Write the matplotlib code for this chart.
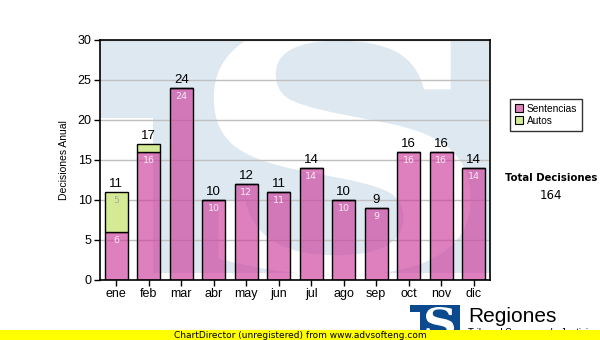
import matplotlib
matplotlib.use("Agg")
import matplotlib.pyplot as plt
import numpy as np
from matplotlib.patches import PathPatch, Rectangle, Polygon
from matplotlib.textpath import TextPath
from matplotlib.font_manager import FontProperties
from matplotlib.transforms import Affine2D

# Datos
meses = ['ene', 'feb', 'mar', 'abr', 'may', 'jun', 'jul', 'ago', 'sep', 'oct', 'nov', 'dic']
sentencias = [6, 16, 24, 10, 12, 11, 14, 10, 9, 16, 16, 14]
autos = [5, 1, 0, 0, 0, 0, 0, 0, 0, 0, 0, 0]
totales = [s + a for s, a in zip(sentencias, autos)]

plt.rcParams['font.family'] = ['Liberation Sans', 'DejaVu Sans']

fig = plt.figure(figsize=(6, 3.4), dpi=100)
ax = fig.add_axes([100/600, 60/340, 390/600, 240/340])

x = np.arange(len(meses))
ax.set_xlim(-0.5, 11.5)
ax.set_ylim(0, 30)

# marca de agua (logo grande)
azul_claro = '#dee8f1'
ax.add_patch(Polygon([(-0.5, 30), (11.5, 30), (11.5, 0.9), (1.13, 0.9),
                      (1.13, 20.25), (-0.5, 20.25)],
                     closed=True, facecolor=azul_claro, edgecolor='none', zorder=0.2))


def letra_s(axis, x0, y0, w, h, color, z, fam="DejaVu Serif"):
    tp = TextPath((0, 0), "S", prop=FontProperties(family=fam, weight="bold"))
    e = tp.get_extents()
    tr = Affine2D().translate(-e.x0, -e.y0).scale(w / e.width, h / e.height).translate(x0, y0)
    p = PathPatch(tr.transform_path(tp), facecolor=color, edgecolor='none', zorder=z)
    axis.add_patch(p)
    return p


letra_s(ax, 3.0, 0.6, 7.9, 31.8, 'white', 0.3)

ax.grid(axis='y', color='#c0c0c0', linewidth=1, zorder=0.5)
ax.set_axisbelow(True)

ancho = 0.72
rosa = (205/255, 60/255, 155/255, 0.65)
verde = '#d4ea94'
ax.bar(x, sentencias, ancho, color=rosa, edgecolor='black', linewidth=1, zorder=2, label='Sentencias')
ax.bar(x, autos, ancho, bottom=sentencias, color=verde, edgecolor='black', linewidth=1,
       zorder=2, label='Autos')

for i in range(len(meses)):
    ax.text(x[i], totales[i] + 0.2, str(totales[i]), ha='center', va='bottom', fontsize=9.5, zorder=3)
    ax.text(x[i], sentencias[i] - 0.55, str(sentencias[i]), ha='center', va='top', fontsize=6.8,
            color='#f8e8f4', family='DejaVu Sans', zorder=3)
    if autos[i] >= 3:
        ax.text(x[i], totales[i] - 0.55, str(autos[i]), ha='center', va='top', fontsize=6.8,
                color='#a8a8a8', family='DejaVu Sans', zorder=3)

ax.set_xticks(x)
ax.set_xticklabels(meses, fontsize=9)
ax.set_yticks(range(0, 31, 5))
ax.tick_params(axis='y', labelsize=9, length=4, width=1, pad=2)
ax.tick_params(axis='x', length=4, width=1, pad=2)
for s in ax.spines.values():
    s.set_linewidth(1.2)
ax.set_ylabel('Decisiones Anual', fontsize=7.5, labelpad=6)

leg = ax.legend(loc='upper left', bbox_to_anchor=(1.05, 0.755), fontsize=7.3, frameon=True,
                fancybox=False, edgecolor='black', handlelength=0.8, handleheight=0.8,
                handletextpad=0.4, borderpad=0.5, labelspacing=0.2, borderaxespad=0)
leg.get_frame().set_linewidth(1)
for h in leg.legend_handles:
    h.set_edgecolor('black')
    h.set_linewidth(0.8)

fig.text(551/600, 1 - 178/340, 'Total Decisiones', ha='center', va='center', fontsize=7.3,
         fontweight='bold', family='DejaVu Sans')
fig.text(551/600, 1 - 196/340, str(sum(totales)), ha='center', va='center', fontsize=8.5,
         family='DejaVu Sans')

# pie: logo y banda amarilla
axf = fig.add_axes([0, 0, 1, 1])
axf.set_xlim(0, 600)
axf.set_ylim(340, 0)
axf.axis('off')
azul = '#0b4a8e'
axf.add_patch(Polygon([(410, 305), (460, 305), (460, 335), (420, 335), (420, 312), (410, 312)],
                      closed=True, facecolor=azul, edgecolor='none', zorder=1))
tp = TextPath((0, 0), "S", prop=FontProperties(family="DejaVu Serif", weight="bold"))
e = tp.get_extents()
tr = Affine2D().translate(-e.x0, -e.y0).scale(28 / e.width, -30 / e.height).translate(426, 337)
axf.add_patch(PathPatch(tr.transform_path(tp), facecolor='white', edgecolor='none', zorder=2))
axf.text(468, 317, 'Regiones', fontsize=15, va='center', ha='left', zorder=2)
axf.text(468, 333, 'Tribunal Supremo de Justicia', fontsize=7, va='center', ha='left', zorder=2)
axf.add_patch(Rectangle((0, 330), 600, 10, facecolor='#ffff00', edgecolor='none', zorder=5))
axf.text(300, 335, 'ChartDirector (unregistered) from www.advsofteng.com', fontsize=6.5,
         ha='center', va='center', zorder=6, family='DejaVu Sans')

fig.savefig('out.png', dpi=100)
